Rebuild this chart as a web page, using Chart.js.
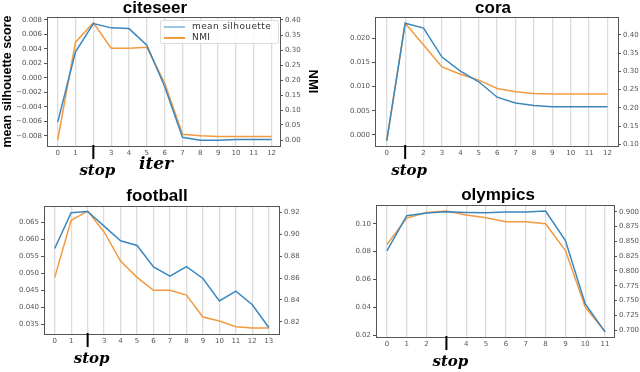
<!DOCTYPE html>
<html>
<head>
<meta charset="utf-8">
<script src="https://cdn.jsdelivr.net/npm/chart.js@4.4.1/dist/chart.umd.min.js"></script>
<style>
  body { margin: 0; background: #fff; }
  #wrap { position: relative; width: 640px; height: 372px; overflow: hidden; }
  canvas { position: absolute; }
  .titulo { position: absolute; transform: translate(-50%, -50%); font: bold 17px "Liberation Sans", Arial, sans-serif; color: #000; white-space: nowrap; }
  .iter { position: absolute; transform: translate(-50%, -50%); font: bold italic 17px "DejaVu Serif", serif; color: #000; }
  .leyenda { position: absolute; left: 160px; top: 20px; width: 117px; height: 22px; background: rgba(255,255,255,0.85);
             border: 1px solid #ddd; border-radius: 2px; font: 9px "DejaVu Sans", sans-serif; letter-spacing: 0.4px; color: #333; }
  .leyenda div { position: absolute; left: 0; width: 100%; height: 11px; }
  .leyenda span.linea { position: absolute; left: 3px; top: 5px; width: 21px; height: 1.5px; }
  .leyenda span.txt { position: absolute; left: 31px; top: 0; line-height: 11px; white-space: nowrap; }
</style>
</head>
<body>
<div id="wrap">
  <canvas id="g-citeseer" width="320" height="180" style="left:0;top:0"></canvas>
  <canvas id="g-cora" width="320" height="180" style="left:320px;top:0"></canvas>
  <canvas id="g-football" width="320" height="192" style="left:0;top:180px"></canvas>
  <canvas id="g-olympics" width="320" height="192" style="left:320px;top:180px"></canvas>
  <div class="titulo" style="left:155px;top:8px">citeseer</div>
  <div class="titulo" style="left:493px;top:8px">cora</div>
  <div class="titulo" style="left:157px;top:196px">football</div>
  <div class="titulo" style="left:498px;top:195px">olympics</div>
  <div class="iter" style="left:156px;top:163px">iter</div>
  <div class="leyenda">
    <div style="top:0"><span class="linea" style="background:#9cc6e2"></span><span class="txt">mean silhouette</span></div>
    <div style="top:11px"><span class="linea" style="background:#f39a40"></span><span class="txt">NMI</span></div>
  </div>
</div>
<script>
// Datos
const citeIter = [0, 1, 2, 3, 4, 5, 6, 7, 8, 9, 10, 11, 12];
const citeSil = [-0.0061, 0.0036, 0.0075, 0.0069, 0.0068, 0.0045, -0.0012, -0.0082, -0.0086, -0.0086, -0.0085, -0.0085, -0.0085];
const citeNmi = [0.0, 0.326, 0.391, 0.306, 0.306, 0.309, 0.19, 0.019, 0.014, 0.012, 0.012, 0.012, 0.012];
const citeSilTicks = [-0.008, -0.006, -0.004, -0.002, 0.0, 0.002, 0.004, 0.006, 0.008];
const citeNmiTicks = [0.0, 0.05, 0.1, 0.15, 0.2, 0.25, 0.3, 0.35, 0.4];

const coraIter = [0, 1, 2, 3, 4, 5, 6, 7, 8, 9, 10, 11, 12];
const coraSil = [-0.0012, 0.0231, 0.0221, 0.0161, 0.0132, 0.011, 0.0078, 0.0066, 0.0061, 0.0058, 0.0058, 0.0058, 0.0058];
const coraNmi = [0.11, 0.432, 0.372, 0.312, 0.292, 0.276, 0.253, 0.244, 0.239, 0.238, 0.238, 0.238, 0.238];
const coraSilTicks = [0.0, 0.005, 0.01, 0.015, 0.02];
const coraNmiTicks = [0.1, 0.15, 0.2, 0.25, 0.3, 0.35, 0.4];

const footIter = [0, 1, 2, 3, 4, 5, 6, 7, 8, 9, 10, 11, 12, 13];
const footSil = [0.0573, 0.0678, 0.0682, 0.0639, 0.0596, 0.0582, 0.0519, 0.0492, 0.052, 0.0485, 0.0419, 0.0448, 0.0408, 0.0341];
const footNmi = [0.8606, 0.9127, 0.921, 0.902, 0.8755, 0.8606, 0.8488, 0.8488, 0.8445, 0.8245, 0.8209, 0.8157, 0.8145, 0.8145];
const footSilTicks = [0.035, 0.04, 0.045, 0.05, 0.055, 0.06, 0.065];
const footNmiTicks = [0.82, 0.84, 0.86, 0.88, 0.9, 0.92];

const olyIter = [0, 1, 2, 3, 4, 5, 6, 7, 8, 9, 10, 11];
const olySil = [0.0805, 0.1058, 0.1077, 0.1086, 0.1081, 0.1079, 0.1084, 0.1084, 0.1092, 0.088, 0.0423, 0.0223];
const olyNmi = [0.8447, 0.8893, 0.8988, 0.901, 0.8944, 0.8899, 0.8831, 0.8831, 0.8797, 0.8346, 0.7389, 0.6977];
const olySilTicks = [0.02, 0.04, 0.06, 0.08, 0.1];
const olyNmiTicks = [0.7, 0.725, 0.75, 0.775, 0.8, 0.825, 0.85, 0.875, 0.9];

const AZUL = "#3a87bd";
const NARANJA = "#f39a40";
const fuenteTick = { family: "DejaVu Sans", size: 7 };

// Marco alrededor del área del gráfico y marca "stop"
const pluginMarco = {
  id: "marco",
  afterDatasetsDraw(chart) {
    const a = chart.chartArea;
    const ctx = chart.ctx;
    ctx.save();
    ctx.strokeStyle = "#555";
    ctx.lineWidth = 1;
    ctx.strokeRect(a.left + 0.5, a.top + 0.5, a.right - a.left, a.bottom - a.top);
    ctx.restore();
  },
  afterDraw(chart, args, opts) {
    if (opts.stop === undefined) return;
    const x = chart.scales.x.getPixelForValue(opts.stop);
    const y = chart.chartArea.bottom;
    const ctx = chart.ctx;
    ctx.save();
    ctx.strokeStyle = "#000";
    ctx.lineWidth = 2;
    ctx.beginPath();
    ctx.moveTo(x, y - 1);
    ctx.lineTo(x, y + 13);
    ctx.stroke();
    ctx.fillStyle = "#000";
    ctx.font = "bold italic 15px 'DejaVu Serif'";
    ctx.textAlign = "center";
    ctx.textBaseline = "middle";
    ctx.fillText("stop", x + 4, y + 25);
    ctx.restore();
  },
};

function formato(dec) {
  return (v) => v.toFixed(dec).replace("-", "\u2212");
}

function crearGrafico(id, cfg) {
  const ctx = document.getElementById(id).getContext("2d");
  const alto = ctx.canvas.height;
  const ancho = ctx.canvas.width;
  return new Chart(ctx, {
    type: "line",
    data: {
      datasets: [
        {
          label: "mean silhouette",
          data: cfg.iter.map((x, i) => ({ x: x, y: cfg.sil[i] })),
          borderColor: AZUL,
          borderWidth: 1.5,
          pointRadius: 0,
          tension: 0,
          yAxisID: "y",
        },
        {
          label: "NMI",
          data: cfg.iter.map((x, i) => ({ x: x, y: cfg.nmi[i] })),
          borderColor: NARANJA,
          borderWidth: 1.5,
          pointRadius: 0,
          tension: 0,
          yAxisID: "y1",
        },
      ],
    },
    options: {
      responsive: false,
      animation: false,
      devicePixelRatio: 1,
      layout: { padding: { top: cfg.top, left: 0, right: 0, bottom: 0 } },
      plugins: {
        legend: { display: false },
        tooltip: { enabled: false },
        marco: { stop: cfg.stop },
      },
      scales: {
        x: {
          type: "linear",
          min: cfg.xMin,
          max: cfg.xMax,
          afterBuildTicks: (s) => { s.ticks = cfg.iter.map((v) => ({ value: v })); },
          afterFit: (s) => { s.height = alto - cfg.bottom; },
          ticks: {
            autoSkip: false,
            maxRotation: 0,
            padding: 3,
            color: "#555",
            font: fuenteTick,
            callback: (v) => (v === cfg.stop ? "" : String(v)),
          },
          grid: { color: "#dcdcdc", lineWidth: 1.3, drawTicks: false },
          border: { display: false },
        },
        y: {
          position: "left",
          min: cfg.yMin,
          max: cfg.yMax,
          afterBuildTicks: (s) => { s.ticks = cfg.silTicks.map((v) => ({ value: v })); },
          afterFit: (s) => { s.width = cfg.left; },
          ticks: { color: "#555", font: fuenteTick, padding: 2, callback: formato(cfg.silDec) },
          grid: { drawOnChartArea: false, color: "#555", tickLength: 3 },
          border: { display: false },
          title: {
            display: !!cfg.tituloY,
            text: cfg.tituloY || "",
            color: "#000",
            font: { family: "Liberation Sans", size: 12.5, weight: "bold" },
            padding: 0,
          },
        },
        y1: {
          position: "right",
          min: cfg.y1Min,
          max: cfg.y1Max,
          afterBuildTicks: (s) => { s.ticks = cfg.nmiTicks.map((v) => ({ value: v })); },
          afterFit: (s) => { s.width = ancho - cfg.right; },
          ticks: { color: "#555", font: fuenteTick, padding: 2, callback: formato(cfg.nmiDec) },
          grid: { drawOnChartArea: false, color: "#555", tickLength: 3 },
          border: { display: false },
          title: {
            display: !!cfg.tituloY1,
            text: cfg.tituloY1 || "",
            color: "#000",
            font: { family: "Liberation Sans", size: 13, weight: "bold" },
            padding: 0,
          },
        },
      },
    },
    plugins: [pluginMarco],
  });
}

document.addEventListener("DOMContentLoaded", () => {
  crearGrafico("g-citeseer", {
    iter: citeIter, sil: citeSil, nmi: citeNmi, silTicks: citeSilTicks, nmiTicks: citeNmiTicks,
    silDec: 3, nmiDec: 2, stop: 2,
    xMin: -0.6, xMax: 12.47, yMin: -0.0094, yMax: 0.0084, y1Min: -0.02, y1Max: 0.41,
    left: 47, right: 280, top: 17, bottom: 146,
    tituloY: "mean silhouette score", tituloY1: "NMI",
  });
  crearGrafico("g-cora", {
    iter: coraIter, sil: coraSil, nmi: coraNmi, silTicks: coraSilTicks, nmiTicks: coraNmiTicks,
    silDec: 3, nmiDec: 2, stop: 1,
    xMin: -0.64, xMax: 12.57, yMin: -0.0023, yMax: 0.0244, y1Min: 0.0953, y1Max: 0.449,
    left: 55, right: 298, top: 17, bottom: 146,
  });
  crearGrafico("g-football", {
    iter: footIter, sil: footSil, nmi: footNmi, silTicks: footSilTicks, nmiTicks: footNmiTicks,
    silDec: 3, nmiDec: 2, stop: 2,
    xMin: -0.65, xMax: 13.62, yMin: 0.0322, yMax: 0.0698, y1Min: 0.809, y1Max: 0.9257,
    left: 44, right: 279, top: 26, bottom: 154,
  });
  crearGrafico("g-olympics", {
    iter: olyIter, sil: olySil, nmi: olyNmi, silTicks: olySilTicks, nmiTicks: olyNmiTicks,
    silDec: 2, nmiDec: 3, stop: 3,
    xMin: -0.55, xMax: 11.45, yMin: 0.0186, yMax: 0.1135, y1Min: 0.6887, y1Max: 0.9113,
    left: 56, right: 294, top: 25, bottom: 157,
  });
});
</script>
</body>
</html>
